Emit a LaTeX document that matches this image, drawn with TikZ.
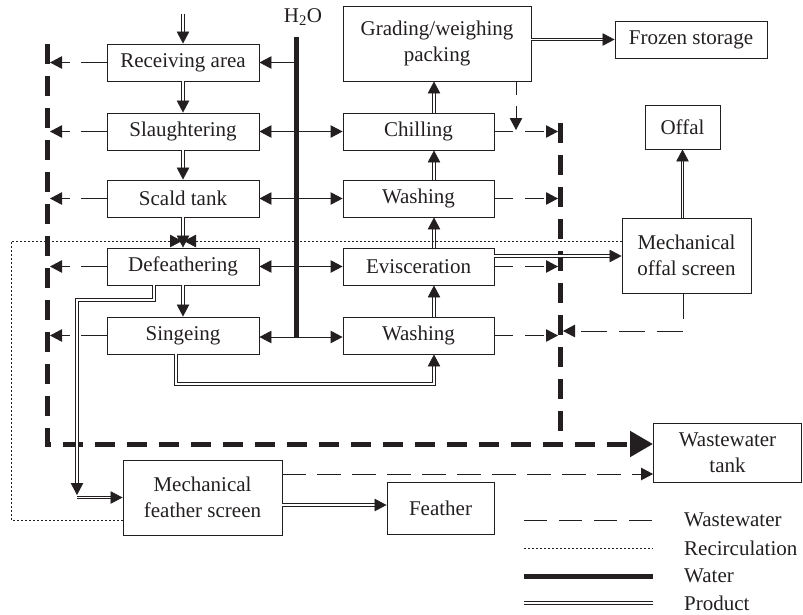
\documentclass[tikz,border=0pt]{standalone}
\usepackage{fontspec}
\setmainfont{Liberation Serif}
\usetikzlibrary{arrows.meta}
\definecolor{ink}{HTML}{231F20}
\begin{document}
\begin{tikzpicture}[x=1pt,y=-1pt,
  box/.style={draw=ink,line width=0.9pt,inner sep=0pt,align=center,text=ink,
    font=\fontsize{21}{25.5}\selectfont},
  lbl/.style={inner sep=0pt,text=ink,font=\fontsize{21}{25.5}\selectfont},
  tip/.style={-{Triangle[length=12pt,width=12.5pt]}},
  bigtip/.style={-{Triangle[length=23pt,width=25pt]}},
  thin/.style={draw=ink,line width=0.9pt},
  ww/.style={draw=ink,line width=0.9pt,dash pattern=on 24pt off 11pt},
  wwthick/.style={draw=ink,line width=5pt,dash pattern=on 20pt off 12pt},
  water/.style={draw=ink,line width=5pt},
  prod/.style={draw=ink,line width=0.8pt,double=white,double distance=1.6pt},
  recirc/.style={draw=ink,line width=0.8pt,dash pattern=on 1.5pt off 2.5pt}
]
\useasboundingbox (0,0) rectangle (803,614);

% left column
\node[box,minimum width=152pt,minimum height=37pt] (rcv) at (183,62.5) {Receiving area};
\node[box,minimum width=152pt,minimum height=37pt] (sla) at (183,131.5) {Slaughtering};
\node[box,minimum width=152pt,minimum height=37pt] (sca) at (183,198.5) {Scald tank};
\node[box,minimum width=152pt,minimum height=37pt] (def) at (183,266.5) {Defeathering};
\node[box,minimum width=152pt,minimum height=37pt] (sin) at (183,335.5) {Singeing};
% right column
\node[box,minimum width=151pt,minimum height=37pt] (chi) at (418.5,131.5) {Chilling};
\node[box,minimum width=151pt,minimum height=37pt] (wa1) at (418.5,198.5) {Washing};
\node[box,minimum width=151pt,minimum height=37pt] (evi) at (418.5,266.5) {Evisceration};
\node[box,minimum width=151pt,minimum height=37pt] (wa2) at (418.5,335.5) {Washing};
\node[box,minimum width=188pt,minimum height=75pt] (grd) at (437,43.5) {Grading/weighing\\packing};
\node[box,minimum width=152pt,minimum height=37pt] (frz) at (691,39.5) {Frozen storage};
\node[box,minimum width=75pt,minimum height=44pt] (off) at (682.5,127) {Offal};
\node[box,minimum width=129pt,minimum height=75pt] (mos) at (686.5,255.5) {Mechanical\\offal screen};
\node[box,minimum width=148pt,minimum height=59pt] (wwt) at (727.5,452.5) {Wastewater\\tank};
\node[box,minimum width=159pt,minimum height=75pt] (mfs) at (202.5,497.5) {Mechanical\\feather screen};
\node[box,minimum width=107pt,minimum height=52pt] (fea) at (440.5,508) {Feather};
\node[lbl] (h2o) at (303,17) {H\textsubscript{2}O};

% coordinates
\coordinate (in) at (183,14);
\coordinate (wl) at (296,0);
\coordinate (wtop) at (296,37);
\coordinate (wbot) at (296,337);
\coordinate (ll) at (50,0);
\coordinate (rl) at (558,0);
\coordinate (sw) at (434,384);
\coordinate (dj) at (77,300);
\coordinate (fj) at (77,495);
\coordinate (fj2) at (77,497.5);
\coordinate (y505) at (0,505);
\coordinate (y474) at (0,474);
\coordinate (y256) at (0,256);
\coordinate (y241) at (0,241);
\coordinate (y520) at (0,520);
\coordinate (y331) at (0,331);
\coordinate (rcL) at (11,241);
\coordinate (rcA) at (182,241);
\coordinate (rcB) at (184,241);
\coordinate (gd) at (516,130);
\coordinate (mr) at (563,331);
\coordinate (mc) at (683,331);
\coordinate (lt) at (47,44);
\coordinate (lb) at (47,444);
\coordinate (rt) at (560,123);
\coordinate (rb) at (560,444);
\coordinate (wa) at (653,444);

% thick wastewater collector
\draw[wwthick] (rt) -- (rb);
\draw[wwthick,bigtip] (lt) -- (lb) -- (wa);

% water
\draw[water] (wtop) -- (wbot);
\foreach \n in {rcv,sla,sca,def}{\draw[thin,tip] (wl |- \n) -- (\n.east);}
\foreach \n in {chi,wa1,evi}{\draw[thin,tip] (wl |- \n) -- (\n.west);}
\draw[thin,tip] (wbot) -- (sin.east |- wbot);
\draw[thin,tip] (wbot) -- (wa2.west |- wbot);

% wastewater arrows
\foreach \n in {rcv,sla,sca,def,sin}{\draw[ww,dash pattern=on 26pt off 11pt,tip] (\n.west) -- (ll |- \n);}
\foreach \n in {chi,wa1,evi,wa2}{\draw[ww,dash pattern=on 19pt off 12pt,tip] (\n.east) -- (rl |- \n);}
\draw[ww,dash pattern=on 14pt off 11pt,tip] (gd |- grd.south) -- (gd);
\draw[ww,dash pattern=on 26pt off 12pt,tip] (mc |- mos.south) -- (mc) -- (mr);
\draw[ww,tip] (mfs.east |- y474) -- (wwt.west |- y474);

% product flow
\draw[prod,tip] (in) -- (rcv.north);
\draw[prod,tip] (rcv.south) -- (sla.north);
\draw[prod,tip] (sla.south) -- (sca.north);
\draw[prod,tip] (sca.south) -- (def.north);
\draw[prod,tip] (def.south) -- (sin.north);
\draw[prod,tip] ([xshift=-7pt]sin.south) |- (sw) -- (sw |- wa2.south);
\draw[prod,tip] ([xshift=15.5pt]wa2.north) -- ([xshift=15.5pt]evi.south);
\draw[prod,tip] ([xshift=15.5pt]evi.north) -- ([xshift=15.5pt]wa1.south);
\draw[prod,tip] ([xshift=15.5pt]wa1.north) -- ([xshift=15.5pt]chi.south);
\draw[prod,tip] ([xshift=15.5pt]chi.north) -- ([xshift=15.5pt]chi.north |- grd.south);
\draw[prod,tip] (grd.east |- frz) -- (frz.west);
\draw[prod,tip] (evi.east |- y256) -- (mos.west |- y256);
\draw[prod,tip] (off.south |- mos.north) -- (off.south);
\draw[prod,tip] ([xshift=-29pt]def.south) |- (dj) -- (fj);
\draw[prod,tip] (fj2) -- (mfs.west);
\draw[prod,tip] (mfs.east |- y505) -- (fea.west |- y505);

% recirculation
\draw[recirc,tip] (mos.west |- y241) -- (rcB);
\draw[recirc,tip] (mfs.west |- y520) -| (rcL) -- (rcA);

% legend
\coordinate (l1a) at (524,520); \coordinate (l1b) at (653,520);
\coordinate (l2a) at (524,548); \coordinate (l2b) at (653,548);
\coordinate (l3a) at (524,576); \coordinate (l3b) at (653,576);
\coordinate (l4a) at (524,603); \coordinate (l4b) at (653,603);
\draw[ww,dash pattern=on 23pt off 12pt] (l1a) -- (l1b);
\draw[recirc] (l2a) -- (l2b);
\draw[water] (l3a) -- (l3b);
\draw[prod] (l4a) -- (l4b);
\node[lbl,anchor=west] (t1) at (684,520) {Wastewater};
\node[lbl,anchor=west] (t2) at (684,548) {Recirculation};
\node[lbl,anchor=west] (t3) at (684,576) {Water};
\node[lbl,anchor=west] (t4) at (684,603) {Product};
\end{tikzpicture}
\end{document}
